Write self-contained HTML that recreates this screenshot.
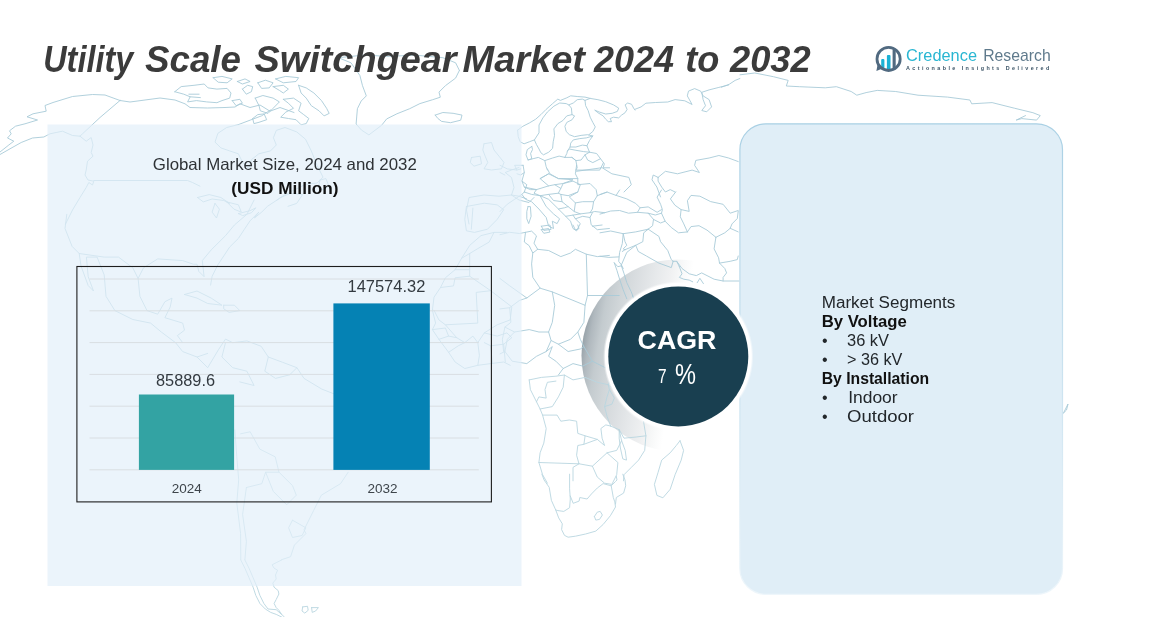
<!DOCTYPE html>
<html lang="en">
<head>
<meta charset="utf-8">
<title>Utility Scale Switchgear Market 2024 to 2032</title>
<style>
html,body{margin:0;padding:0;background:#fff;}
body{width:1176px;height:617px;overflow:hidden;position:relative;font-family:"Liberation Sans",sans-serif;}
svg{position:absolute;left:0;top:0;display:block;}
text{font-family:"Liberation Sans",sans-serif;}
</style>
</head>
<body>
<svg width="1176" height="617" viewBox="0 0 1176 617">
<defs>
<linearGradient id="cres" gradientUnits="userSpaceOnUse" x1="581" y1="356" x2="674.6" y2="372.5">
<stop offset="0" stop-color="#949fa6"/>
<stop offset="0.06" stop-color="#aab3b9"/>
<stop offset="0.16" stop-color="#bfc7cb"/>
<stop offset="0.3" stop-color="#cdd3d6"/>
<stop offset="0.45" stop-color="#d8dcdf"/>
<stop offset="0.62" stop-color="#e4e7e9"/>
<stop offset="0.78" stop-color="#eff0f1"/>
<stop offset="0.9" stop-color="#f8f9f9"/>
<stop offset="1" stop-color="#ffffff"/>
</linearGradient>
<radialGradient id="glow" gradientUnits="userSpaceOnUse" cx="678.3" cy="356.4" r="80">
<stop offset="0.912" stop-color="#fff" stop-opacity="1"/>
<stop offset="0.925" stop-color="#fff" stop-opacity="0.45"/>
<stop offset="0.94" stop-color="#fff" stop-opacity="0"/>
</radialGradient>
<linearGradient id="pb" x1="0" y1="0" x2="0" y2="1">
<stop offset="0" stop-color="#a9d0e4"/>
<stop offset="0.6" stop-color="#cfe5f1"/>
<stop offset="1" stop-color="#eef6fb"/>
</linearGradient>
</defs>

<!-- crescent -->
<circle cx="677.5" cy="355.5" r="96" fill="url(#cres)" opacity="0.93"/>
<!-- MAP -->
<g id="map" fill="none" stroke-linejoin="round" stroke-linecap="round">
<path id="m1" stroke="#a8cbd8" stroke-width="0.9" d="M0.0 154.5 L10.0 148.8 L21.2 142.5 L32.5 138.0 L43.8 137.0 L50.0 133.8 L56.2 132.5 L62.5 131.2 L72.5 135.5 L80.0 136.2 M0.0 152.0 L8.8 145.0 L13.8 141.2 L7.5 138.0 L11.2 133.8 L9.5 130.8 L15.5 126.2 L25.0 123.8 L37.5 120.0 L27.0 116.8 L33.0 113.8 L46.2 111.2 L45.0 105.5 L53.0 102.5 L72.5 96.5 L92.5 94.5 L105.0 95.0 L120.0 100.5 M120.0 100.5 L100.0 117.5 L82.5 133.8 L80.0 136.2 M120.0 100.5 L130.0 102.0 L145.0 100.0 L160.0 98.0 L175.0 100.0 L185.0 103.8 L190.0 107.5 L207.5 108.0 L225.0 107.5 L235.0 107.0 L240.0 103.8 L250.0 107.5 L260.0 105.0 L270.0 111.2 L280.0 107.5 L294.0 112.5 M80.0 136.2 L86.2 141.2 L91.2 137.5 L93.0 145.0 L91.2 152.5 L93.0 156.2 L87.5 161.2 L86.2 170.0 L85.0 175.0 L88.0 180.0 L93.8 181.2 L92.5 185.0 L88.8 182.5 L86.2 187.5 L80.0 197.5 L72.5 210.0 L67.5 220.0 L65.5 224.0 M93.8 180.5 L187.5 180.5 L192.5 182.5 L200.0 186.2 M484.0 143.8 L491.5 142.5 L494.0 150.0 L499.0 156.2 L504.0 162.5 L501.5 168.8 L491.5 170.0 L484.0 168.8 L487.8 162.5 L485.2 156.2 L482.8 150.0 L484.0 143.8 M471.5 157.5 L480.2 156.2 L481.5 163.8 L474.0 166.2 L470.2 162.5 L471.5 157.5 M519.0 167.5 L511.5 170.0 L505.2 172.5 L511.5 177.5 L514.0 187.5 L511.5 195.0 L499.0 196.2 L484.0 195.0 L469.0 197.5 L466.5 210.0 L469.0 224.0 M511.5 195.0 L519.0 200.0 L529.0 202.5 L534.0 197.5 M511.5 195.0 L519.0 196.2 L526.5 198.8 M635.0 109.3 L641.1 106.9 L645.9 103.2 L655.6 102.5 L667.8 102.0 L675.1 99.6 L684.8 100.8 L692.1 104.5 L687.3 95.9 L688.5 91.1 L694.6 88.6 L700.6 91.1 L703.1 95.9 L709.1 99.6 L711.6 106.9 L706.7 111.8 L701.8 110.5 L705.5 105.7 L703.1 99.6 L701.8 92.3 L709.1 89.9 L718.9 87.4 L728.6 85.0 M523.1 165.3 L524.3 172.5 L521.9 181.1 L524.3 187.1 L536.5 189.6 L548.6 185.9 L540.1 178.6 L548.6 173.8 M547.4 168.9 L549.9 173.8 L558.4 178.6 L577.8 178.6 L575.4 173.8 L576.6 165.3 M603.4 162.8 L599.7 170.1 L576.6 170.1 M576.6 171.3 L602.1 167.7 L611.9 173.8 L628.9 177.4 L631.3 184.7 L624.0 192.0 M607.0 192.0 L597.3 195.7 M577.8 178.6 L577.8 184.7 L590.0 183.5 L596.1 189.6 L597.3 195.7 M658.1 177.4 L653.2 175.0 L652.0 179.8 L656.9 187.1 L660.5 196.9 M675.1 192.0 L670.2 189.6 L665.4 192.0 L661.7 187.1 L658.1 181.1 L658.1 177.4 M658.1 177.4 L665.4 171.3 L677.5 173.8 L692.1 170.1 L699.4 172.5 L694.6 165.3 L695.8 160.4 L709.1 158.0 L718.9 155.5 L728.6 158.0 L738.3 161.6 M597.3 195.7 L593.6 201.7 L592.4 209.0 L590.0 212.7 L594.8 211.5 L604.6 212.7 M590.0 217.5 L592.4 212.7 M609.4 228.5 L597.3 229.7 L591.2 224.8 L590.0 217.5 L582.7 216.3 L575.4 218.8 L580.3 223.6 L576.6 230.9 L573.0 228.5 L570.5 221.2 L565.7 216.3 L558.4 209.0 L548.6 199.3 L540.1 195.7 M524.3 192.0 L531.6 194.4 L540.1 195.7 L546.2 206.6 L553.5 213.9 L559.6 218.8 L557.1 223.6 L552.3 221.2 L553.5 228.5 L548.6 226.1 L546.2 217.5 L538.9 209.0 L531.6 201.7 L525.5 199.3 L521.9 194.4 L524.3 192.0 M528.0 206.6 L530.4 206.6 L531.1 216.3 L528.7 223.6 L526.8 218.8 L526.8 211.5 L528.0 206.6 M541.3 229.7 L548.6 228.5 L549.9 232.1 L543.8 233.3 L541.3 229.7 M540.1 178.6 L548.6 173.8 L558.4 178.6 L573.0 179.8 L563.2 183.5 L554.7 184.7 L548.6 185.9 M536.5 189.6 L534.0 193.2 L540.1 195.7 L548.6 194.4 L558.4 193.2 L560.8 188.4 L554.7 184.7 M560.8 188.4 L563.2 183.5 L573.0 181.1 L580.3 184.7 L577.8 192.0 L568.1 195.7 L560.8 194.4 L558.4 193.2 M577.8 192.0 L569.3 196.9 L575.4 202.9 L582.7 201.7 L593.6 201.7 M575.4 202.9 L574.2 211.5 L580.3 213.9 L590.0 212.7 M560.8 194.4 L562.0 201.7 L568.1 206.6 L574.2 211.5 M548.6 194.4 L553.5 200.5 L562.0 201.7 M558.4 209.0 L564.4 207.8 L568.1 206.6 M565.7 216.3 L573.0 215.1 L580.3 213.9 M573.0 215.1 L575.4 218.8 M521.9 181.1 L526.8 184.7 L524.3 192.0 M524.3 187.1 L530.4 189.6 L536.5 189.6 M520.7 168.9 L517.0 170.1 M524.3 172.5 L520.7 175.0 L517.0 173.8 M500.0 165.3 L507.3 168.9 L517.0 170.1 L514.6 165.3 L523.1 165.3 M500.0 211.5 L507.3 204.2 L514.6 199.3 L521.9 194.4 M500.0 172.5 L504.9 175.0 M500.0 234.7 L509.7 232.3 L519.5 233.5 L525.5 232.3 L531.6 231.1 L536.5 235.9 L534.0 243.2 L537.7 249.3 L548.6 250.5 L560.8 256.6 L570.5 253.0 L575.4 249.3 L586.3 254.2 L597.3 256.6 L609.4 255.4 M525.5 232.3 L524.3 242.0 L529.2 245.7 L532.8 253.0 L537.7 249.3 M532.8 253.0 L531.6 263.9 L532.8 277.3 L540.1 288.2 L552.3 291.9 L585.1 305.3 L587.5 295.5 L586.3 254.2 M587.5 295.5 L619.2 295.5 M632.5 295.5 L636.2 305.3 L641.1 315.0 L645.9 322.3 M638.6 295.5 L645.9 307.7 L650.8 317.4 M585.1 305.3 L583.9 322.3 L577.8 332.0 L580.3 339.3 L583.9 346.6 L592.4 361.2 L602.1 366.1 L611.9 370.9 M552.3 291.9 L554.7 305.3 L552.3 322.3 L548.6 332.0 L551.1 340.5 L558.4 344.2 L570.5 339.3 L577.8 332.0 M540.1 288.2 L526.8 298.0 L519.5 300.4 L509.7 307.7 L510.9 322.3 L504.9 327.1 L514.6 332.0 L529.2 329.6 L538.9 332.0 L548.6 332.0 M526.8 298.0 L509.7 285.8 L500.0 278.5 M509.7 307.7 L500.0 308.9 M514.6 332.0 L507.3 339.3 L504.9 351.5 L512.2 361.2 L526.8 363.6 L536.5 356.3 L546.2 351.5 L551.1 340.5 M546.2 351.5 L552.3 346.6 L548.6 356.3 L555.9 361.2 L563.2 368.5 L558.4 375.0 M558.4 344.2 L568.1 351.5 L580.3 349.0 L583.9 346.6 M563.2 368.5 L573.0 363.6 L582.7 366.1 L592.4 361.2 M504.9 327.1 L502.4 339.3 L503.6 351.5 L504.9 351.5 M500.0 353.9 L504.9 351.5 M573.0 225.0 L575.4 229.9 L579.0 228.6 L577.8 225.0 M592.4 226.2 L602.1 225.0 M541.3 226.2 L549.9 225.0 L551.1 229.4 L543.8 230.4 L541.3 226.2 M721.4 87.2 L729.2 84.3 L735.1 80.4 L739.9 78.5 M740.0 74.8 L754.8 73.0 L773.4 76.7 L788.2 80.4 L786.3 86.0 L799.3 86.7 L825.3 87.8 L836.4 86.7 L851.2 91.5 L856.8 95.2 L866.1 92.6 L877.2 90.4 L895.7 91.5 L918.0 95.2 L947.6 97.1 L969.9 100.0 L971.7 103.8 L992.1 102.6 L1014.4 108.2 L1032.9 112.7 L1040.3 115.6 L1036.6 120.1 L1021.8 118.6 L1016.2 120.1 L1025.5 115.6 M66.8 214.3 L65.0 228.5 L72.1 246.4 L79.2 253.5 L81.0 266.0 L88.2 285.6 L93.5 291.0 L88.2 276.7 L86.4 257.1 L97.1 257.1 L104.2 274.9 L106.0 296.3 L114.9 310.6 L132.8 319.5 L150.6 323.1 L161.3 332.0 L175.6 342.7 L182.7 351.6 L197.0 357.0 L207.7 353.4 M254.1 200.0 L246.9 214.3 L234.4 225.0 L225.5 235.7 L211.2 249.9 L202.3 260.6 L204.1 276.7 L198.8 271.4 L197.0 264.2 L193.4 264.2 L182.7 260.6 L157.7 258.9 L143.5 267.8 L138.1 278.5 L139.9 296.3 L147.0 310.6 L157.7 314.2 L164.9 301.7 L172.0 298.1 L170.2 307.0 L164.9 317.7 L182.7 323.1 L184.5 330.2 L177.4 335.6 L182.7 342.7 M79.2 253.5 L104.2 257.1 L118.5 257.1 L132.8 267.8 L138.1 278.5 M184.5 294.5 L197.0 291.0 L211.2 298.1 L221.9 305.2 L207.7 303.5 L197.0 298.1 L184.5 294.5 M223.7 305.2 L234.4 305.2 L239.8 310.6 L229.1 312.4 L223.7 308.8 L223.7 305.2 M197.0 357.0 L207.7 367.7 L218.4 349.8 L225.5 339.1 L232.7 342.7 L246.9 340.9 L261.2 346.3 L268.3 357.0 L282.6 362.3 L296.9 367.7 L304.0 378.4 L321.8 389.1 L340.0 396.2 M225.5 342.7 L221.9 357.0 L232.7 367.7 L246.9 371.2 L254.1 385.5 L239.8 381.9 M268.3 357.0 L264.8 371.2 L275.5 378.4 L289.7 374.8 L296.9 367.7 M174.8 91.7 L181.2 86.6 L194.0 85.3 L204.2 84.0 L208.0 87.9 L216.9 89.1 L227.1 88.4 L231.0 93.0 L229.7 98.1 L222.0 100.6 L216.9 102.7 L206.7 101.9 L196.5 100.6 L187.6 101.9 L190.2 96.8 L183.8 94.2 L174.8 91.7 M188.9 94.2 L199.1 94.2 M190.2 96.8 L200.4 97.6 M213.1 77.7 L222.0 76.4 L232.2 78.9 L227.1 82.8 L218.2 82.2 L213.1 77.7 M242.4 89.1 L247.6 85.3 L252.7 86.6 L251.4 91.7 L246.3 94.2 L242.4 89.1 M257.8 82.8 L265.4 80.2 L273.1 82.8 L269.2 87.9 L261.6 88.4 L257.8 82.8 M275.6 78.9 L285.8 76.4 L298.6 77.7 L296.0 81.5 L283.3 82.8 L275.6 78.9 M273.1 86.6 L283.3 85.3 L288.4 89.1 L283.3 93.0 L279.4 90.4 L273.1 86.6 M237.3 81.5 L245.0 78.9 L250.1 81.5 L242.4 84.0 L237.3 81.5 M255.2 98.1 L262.9 95.5 L273.1 98.1 L279.4 101.9 L273.1 108.3 L268.0 113.4 L260.3 110.8 L259.0 105.7 L255.2 98.1 M283.3 99.3 L293.5 98.1 L301.1 103.2 L298.6 110.8 L303.7 114.6 L308.8 118.5 L306.2 123.6 L301.1 124.8 L296.0 119.7 L288.4 118.5 L280.7 117.2 L285.8 112.1 L293.5 108.3 L288.4 103.2 L283.3 99.3 M298.6 85.3 L306.2 87.9 L313.9 93.0 L321.5 100.6 L326.6 108.3 L329.2 113.4 L324.1 115.9 L319.0 110.8 L311.3 105.7 L306.2 98.1 L301.1 93.0 L298.6 85.3 M252.7 118.5 L257.8 114.6 L264.1 113.9 L266.7 119.7 L259.0 122.3 L253.9 123.6 L252.7 118.5 M232.2 100.6 L239.9 99.3 L242.4 103.2 L236.1 105.7 L232.2 100.6 M238.4 124.6 L226.7 127.5 L217.9 133.3 L215.0 142.1 L220.9 147.9 L229.6 150.9 L238.4 153.8 L242.7 162.5 L248.6 168.4 L251.5 159.6 L258.8 153.8 L270.5 150.9 L276.3 145.0 L273.4 137.7 L276.3 130.4 L285.0 127.5 L296.7 131.9 L305.5 139.2 L311.3 150.9 L317.1 165.4 L323.0 177.1 L317.1 183.0 L305.5 184.4 L296.7 188.8 L285.0 194.6 L276.3 200.5 L280.7 197.5 L290.9 193.2 L302.6 194.6 L296.7 203.4 L288.0 206.3 M276.3 200.5 L267.5 206.3 L261.7 212.1 L254.4 218.0 L258.8 212.1 L250.0 220.9 L244.2 229.6 L238.4 238.4 L229.6 247.1 L223.8 255.9 L217.9 264.7 L212.1 276.3 L210.6 285.1 M197.5 197.5 L209.2 194.6 L220.9 197.5 L229.6 203.4 L223.8 200.5 L212.1 199.0 L203.3 201.9 L197.5 197.5 M215.0 203.4 L212.1 212.1 L216.5 218.0 L219.4 209.2 L215.0 203.4 M226.7 201.9 L234.0 209.2 L241.3 212.1 L238.4 204.8 L226.7 201.9 M238.4 213.6 L250.0 210.7 L255.9 207.8 L251.5 212.7 L242.7 215.6 L238.4 213.6 M320.1 180.0 L325.9 178.6 L328.8 185.9 L323.0 190.2 L318.6 185.9 L320.1 180.0 M238.4 124.6 L250.0 120.2 L261.7 115.8 L270.5 110.0 M466.4 206.5 L484.3 203.2 L497.2 204.9 L503.7 209.7 L497.2 219.4 L487.5 229.2 L474.5 232.4 L466.4 230.8 L464.8 219.4 L466.4 206.5 M472.9 208.1 L471.3 229.2 M506.9 232.4 L494.0 232.4 L481.0 235.6 L469.7 245.4 L461.6 258.3 L455.1 269.7 L445.4 277.8 L440.5 287.5 L434.0 297.2 L432.4 310.2 L435.6 323.1 L432.4 329.6 L438.9 339.3 L448.6 352.3 L455.1 362.0 L464.8 368.5 L477.8 365.3 L490.7 363.6 L503.7 362.0 L510.2 365.3 M494.0 232.4 L489.1 242.1 L477.8 248.6 L469.7 253.5 L461.6 258.3 M455.1 269.7 L469.7 269.7 L469.7 253.5 M440.5 287.5 L453.5 285.9 L455.1 277.8 L469.7 276.2 L469.7 269.7 M469.7 276.2 L490.7 290.7 L476.2 292.4 L477.8 323.1 L445.4 324.8 L438.9 319.9 L434.0 310.2 M490.7 290.7 L511.8 306.9 L510.2 319.9 L497.2 324.8 L484.3 332.9 L477.8 342.6 L472.9 336.1 L464.8 342.6 L456.7 337.7 L445.4 324.8 M484.3 332.9 L497.2 336.1 L506.9 332.9 L511.8 337.7 L503.7 344.2 L490.7 345.8 L484.3 342.6 M477.8 342.6 L479.4 355.5 L477.8 365.3 M490.7 345.8 L492.4 363.6 M503.7 344.2 L505.3 362.0 M432.4 329.6 L445.4 328.0 L448.6 336.1 L438.9 339.3 M448.6 336.1 L456.7 337.7 M448.6 352.3 L458.3 345.8 L464.8 342.6 M1063.5 413.0 L1066.0 408.0 L1068.0 404.0 L1066.5 410.0 L1063.5 413.0 M459.4 70.4 L455.6 62.8 L442.9 57.7 L414.8 55.1 L389.3 56.4 L363.8 55.1 L338.3 57.7 L351.0 62.8 L359.9 75.5 L362.5 85.7 L366.3 95.9 L361.2 101.0 L357.4 108.7 L356.1 124.0 L361.5 130.1 L368.9 134.9 L381.6 125.3 L386.7 118.9 L396.9 113.8 L409.7 108.7 L419.9 103.6 L432.7 99.7 L440.3 97.2 L439.0 92.1 L445.4 85.7 L455.6 78.1 L459.4 70.4 M435.2 115.1 L442.9 112.5 L453.1 113.3 L462.0 115.1 L460.7 120.2 L450.5 122.7 L441.6 121.4 L437.8 118.4 L435.2 115.1 M600.0 194.5 L607.1 192.1 L616.1 195.4 L626.8 198.9 L635.7 203.4 L640.1 207.8 L637.5 212.3 L628.5 213.2 L619.6 210.5 L610.7 211.0 L600.0 214.1 M616.1 195.4 L619.6 190.0 M640.1 207.8 L648.2 206.9 L657.1 212.3 L661.5 209.6 M661.5 190.0 L657.1 197.1 L660.6 204.3 L662.4 209.6 L661.5 213.2 L665.1 221.2 L671.3 227.5 L678.5 232.8 L687.4 231.9 M637.5 212.3 L648.2 213.2 L653.5 219.4 L660.6 223.0 L665.1 221.2 M648.2 213.2 L655.3 215.0 L661.5 213.2 M653.5 219.4 L652.6 225.7 L648.2 229.2 M600.0 232.8 L610.7 231.0 L623.2 233.7 L635.7 231.9 L648.2 229.2 M623.2 233.7 L622.3 243.5 L619.6 252.4 L618.7 261.3 L621.4 264.9 L623.2 268.5 M623.2 233.7 L625.0 241.7 L626.8 245.3 L623.2 248.9 L625.0 249.7 M648.2 229.2 L643.7 232.8 L642.8 241.7 L635.7 245.3 L625.0 249.7 L622.3 251.5 M648.2 229.2 L658.9 236.4 L660.6 241.7 L667.8 250.6 L671.3 259.6 L673.1 261.3 M635.7 245.3 L638.3 251.5 L646.4 256.0 L658.9 263.1 L671.3 267.6 L673.1 261.3 M635.7 245.3 L626.8 252.4 L621.4 264.9 M673.1 261.3 L676.7 261.3 L679.4 266.7 M676.7 261.3 L682.0 268.5 L689.2 273.8 L696.3 275.6 L701.7 272.9 L707.0 275.6 L714.1 279.2 L723.1 281.0 L739.1 281.0 M679.4 266.7 L682.0 273.8 L679.4 277.4 L683.8 279.2 L689.2 280.1 L692.7 281.8 M697.2 282.7 L699.9 278.3 L703.4 283.6 M675.8 191.8 L670.4 198.9 L674.9 205.2 L681.1 209.6 L680.3 216.8 L683.8 223.9 L687.4 231.9 M681.1 209.6 L689.2 211.4 L687.4 200.7 L691.0 195.4 L699.9 196.2 L710.6 201.6 L723.1 204.3 L730.2 213.2 L738.2 210.5 M687.4 231.9 L691.0 226.6 L699.0 225.7 L707.0 230.1 L715.9 237.3 M715.9 237.3 L724.8 232.8 L730.2 228.3 L732.0 223.9 L737.3 218.5 L738.2 211.4 M715.9 237.3 L714.1 248.9 L718.6 257.8 L719.5 263.1 L724.8 268.5 L726.6 272.9 L723.1 277.4 L723.1 281.0 M719.5 263.1 L730.2 261.3 L737.3 259.6 L738.2 256.0 M730.2 228.3 L738.2 231.9 M600.0 256.3 L608.9 257.4 L618.7 256.9 M614.3 262.8 L616.9 270.3 L619.6 279.2 L623.2 289.9 L626.8 298.8 M621.4 265.8 L624.1 273.8 L626.8 282.7 L631.2 291.7 L633.9 298.8 M614.3 262.8 L617.8 266.7 L621.4 265.8 M517.6 130.2 L522.8 126.3 L529.3 123.0 L535.7 119.2 L540.9 114.6 L546.1 109.4 L552.6 103.6 L557.8 99.1 L560.4 100.4 L566.8 97.8 L570.7 95.8 L577.2 96.5 L585.0 97.1 L590.2 98.4 L597.9 99.7 L605.7 101.7 L613.5 104.9 L618.7 108.1 L617.4 111.4 L612.2 113.3 L605.7 114.0 L599.2 112.0 L594.7 110.1 L597.9 112.7 L603.1 115.9 L605.7 119.2 L608.3 121.7 L611.5 121.7 L610.2 118.5 L613.5 117.2 L618.7 117.9 L621.3 115.3 L625.1 112.7 L627.1 109.4 L625.1 104.9 L627.7 103.0 L631.6 104.3 L633.6 108.1 L635.0 110.1 M517.6 130.2 L518.2 136.7 L520.2 141.8 L524.1 143.8 L529.3 141.8 L534.4 139.9 L536.4 144.4 L539.0 149.0 L540.9 152.8 L543.5 154.8 L548.7 152.2 L552.6 148.3 L553.2 141.8 L554.5 135.4 L553.9 128.9 L557.8 123.7 L562.9 120.5 L566.8 115.9 L572.0 114.6 L574.6 115.9 L572.0 119.8 L566.8 122.4 L564.9 126.3 L566.2 131.5 L569.4 134.7 L574.6 136.7 L581.1 135.4 L587.6 134.7 L592.8 136.0 L586.3 137.9 L579.8 138.6 L573.3 139.9 L570.7 143.1 L570.1 147.0 L567.5 150.9 L566.8 153.5 L564.9 157.4 M534.4 139.9 L539.0 132.8 L539.0 125.0 L542.9 117.9 L547.4 112.0 L553.9 106.2 L559.7 103.0 L566.2 103.6 L568.8 104.9 L571.4 108.1 L572.0 114.6 M568.8 104.9 L573.3 103.0 L577.2 99.7 L582.4 99.1 L585.0 100.4 L590.2 98.4 M585.0 100.4 L585.6 105.6 L588.2 110.7 L590.2 117.2 L592.8 122.4 L595.3 126.9 L592.8 131.5 L588.9 134.7 M570.1 147.0 L575.9 147.0 L582.4 145.1 L586.9 145.7 M567.5 150.9 L569.4 149.0 L575.9 150.3 L583.7 151.6 L589.5 152.2 M564.9 157.4 L572.0 157.4 L575.9 160.6 L581.1 160.0 L585.0 154.8 L589.5 152.2 M592.8 136.0 L589.5 140.5 L586.9 145.7 L589.5 152.2 L596.6 153.5 L600.5 158.7 L604.4 163.9 L603.1 167.8 L609.6 167.8 M531.8 146.4 L527.3 149.6 L526.0 154.8 L528.0 160.0 L531.8 158.7 L530.6 153.5 L532.5 149.6 L531.8 146.4 M528.0 160.0 L533.1 158.7 L538.3 157.4 L544.8 160.6 L552.6 158.0 L559.1 156.1 L564.9 157.4 M544.8 160.6 L546.1 166.5 L547.4 170.0 M572.0 157.4 L575.9 160.6 L577.2 167.8 L575.9 170.0 M585.0 154.8 L587.6 160.0 L592.8 162.6 L600.5 158.7"/>
<path id="m2" stroke="#b9d6e0" stroke-width="0.9" d="M529.2 379.9 L530.4 389.6 L536.5 401.8 L540.1 409.0 L542.6 415.1 L546.2 428.5 L543.8 443.1 L540.1 452.8 L538.9 462.5 L542.6 474.7 L547.4 483.2 M529.2 379.9 L541.3 377.4 L555.9 376.2 L564.4 375.0 L563.2 387.2 L558.4 396.9 L552.3 406.6 L540.1 409.0 M536.5 401.8 L538.9 396.9 L546.2 398.1 L545.0 389.6 L547.4 382.3 L555.9 381.1 M542.6 415.1 L557.1 415.1 L560.8 421.2 L569.3 420.0 L576.6 421.2 L577.8 433.4 L585.1 435.8 L583.9 444.3 L577.8 445.5 L576.6 455.3 L579.0 463.8 L538.9 462.5 M585.1 435.8 L597.3 439.4 L604.6 445.5 L602.1 438.2 L600.9 428.5 L605.8 424.9 L610.7 426.1 M610.7 426.1 L607.0 416.3 L604.6 406.6 L607.0 396.9 L609.4 389.6 L608.2 384.7 L611.9 375.0 M610.7 426.1 L619.2 429.7 L624.0 438.2 L636.2 437.0 L645.9 435.8 M643.5 421.2 L645.9 435.8 L644.7 450.4 L638.6 460.1 L631.3 467.4 L624.0 474.7 L623.5 480.8 M619.2 429.7 L621.6 440.7 L625.2 450.4 L626.5 460.1 L622.8 458.9 L620.4 448.0 L619.2 438.2 L619.2 429.7 M583.9 444.3 L597.3 439.4 M579.0 463.8 L592.4 466.2 L607.0 452.8 L616.7 450.4 L621.6 440.7 M592.4 466.2 L597.3 477.1 L604.6 483.2 L611.9 484.4 L616.7 474.7 L617.9 462.5 L607.0 452.8 M579.0 463.8 L573.0 467.4 L573.0 480.8 M680.0 440.7 L683.6 450.4 L681.2 460.1 L675.1 474.7 L670.2 489.3 L662.9 497.8 L656.9 495.4 L654.4 484.4 L658.1 472.3 L661.7 460.1 L670.2 452.8 L676.3 445.5 L680.0 440.7 M564.4 375.0 L573.0 379.9 L585.1 377.4 L597.3 382.3 L608.2 384.7 M608.2 384.7 L614.3 389.6 L619.2 384.7 L626.5 389.6 M604.6 406.6 L611.9 404.2 L614.3 398.1 L609.4 389.6 M234.9 429.9 L236.8 456.8 L238.7 479.8 L236.8 502.9 L240.6 533.6 L240.8 559.7 M348.2 472.2 L340.5 483.7 L321.3 495.2 L313.6 510.6 L304.0 529.8 L305.9 533.6 L294.4 545.1 L290.6 556.7 L281.6 559.7 M246.4 487.5 L242.6 514.4 L246.4 541.3 L244.9 559.7 M240.6 433.8 L250.2 431.8 L259.8 449.1 L275.2 456.8 L279.0 472.2 L265.6 472.2 L261.8 483.7 L246.4 487.5 M279.0 472.2 L292.5 485.6 L296.3 495.2 L286.7 504.8 L273.3 491.4 L265.6 472.2 M292.5 520.2 L305.9 527.8 L302.1 535.5 L292.5 537.5 L288.6 527.8 L292.5 520.2 M541.9 474.2 L544.1 480.0 L549.2 487.3 L551.4 500.4 L555.7 509.9 L558.7 517.9 L562.3 523.8 L561.6 529.6 L564.5 535.4 L568.1 537.2 L575.4 536.2 L585.6 534.0 L595.8 531.1 L603.1 524.5 L610.4 515.7 L615.5 507.0 L614.8 501.9 L613.3 497.5 L611.2 485.8 M569.6 474.2 L569.6 480.0 L569.6 488.8 L570.3 499.0 L569.6 507.7 L563.8 511.4 L557.9 510.6 L555.7 509.9 M570.3 496.0 L573.2 503.3 L579.1 501.1 L579.8 497.5 L587.1 499.0 L591.5 493.9 L597.3 488.0 L603.1 483.6 L611.2 485.8 L615.5 481.5 L617.0 480.0 L616.3 476.4 M622.8 474.2 L625.0 480.0 L625.7 485.8 L623.6 493.1 L616.3 497.5 L615.5 504.1 M594.4 516.5 L597.3 512.1 L600.2 511.4 L602.4 515.0 L599.5 519.4 L595.8 520.1 L594.4 516.5 M240.8 560.0 L244.9 568.2 L249.0 577.7 L253.1 587.2 L255.8 595.4 L259.9 603.5 L265.3 609.0 L270.7 612.4 L276.2 614.4 L281.6 617.0 M244.9 560.0 L249.0 568.2 L253.1 577.7 L257.1 587.2 L259.9 595.4 L263.9 603.5 L268.0 609.0 L276.2 609.7 L281.6 614.4 M281.6 560.0 L276.2 562.7 L272.1 564.8 L274.1 568.2 L277.6 570.2 L275.5 575.0 L276.2 579.0 L272.8 583.1 L274.1 587.2 L278.2 590.6 L278.9 594.0 L276.2 599.5 L274.1 603.5 L276.2 607.6 L278.9 610.3 L281.6 614.4 L284.4 617.0 M302.7 606.9 L307.5 606.3 L308.2 610.3 L304.8 613.1 L302.0 611.0 L302.7 606.9 M311.6 607.6 L318.4 607.6 L315.6 611.0 L312.2 612.4 L311.6 607.6"/>
</g>
<!-- left panel -->
<rect x="47.5" y="124.5" width="474" height="461.5" fill="#e2eff9" fill-opacity="0.7"/>
<!-- right panel -->
<rect x="739.9" y="123.8" width="322.6" height="470.6" rx="26" ry="26" fill="#e0eef7" stroke="url(#pb)" stroke-width="1.2"/>


<!-- chart -->
<g stroke="#d9dee2" stroke-width="1">
<line x1="89.5" y1="279" x2="478.8" y2="279"/>
<line x1="89.5" y1="310.8" x2="478.8" y2="310.8"/>
<line x1="89.5" y1="342.6" x2="478.8" y2="342.6"/>
<line x1="89.5" y1="374.4" x2="478.8" y2="374.4"/>
<line x1="89.5" y1="406.2" x2="478.8" y2="406.2"/>
<line x1="89.5" y1="438" x2="478.8" y2="438"/>
<line x1="89.5" y1="469.8" x2="478.8" y2="469.8"/>
</g>
<rect x="76.9" y="266.5" width="414.5" height="235.4" fill="none" stroke="#1d1d1d" stroke-width="1.1"/>
<rect x="138.9" y="394.5" width="95.2" height="75.4" fill="#33a3a3"/>
<rect x="333.4" y="303.4" width="96.4" height="166.5" fill="#0582b4"/>

<!-- crescent + circle -->
<circle cx="678.3" cy="356.4" r="80" fill="url(#glow)"/>
<circle cx="678.3" cy="356.4" r="70" fill="#193f50"/>

<!-- texts -->
<g font-weight="700" font-style="italic" font-size="37" fill="#3b3b3b">
<text x="43.2" y="72.4" textLength="90" lengthAdjust="spacingAndGlyphs">Utility</text>
<text x="145" y="72.4" textLength="96" lengthAdjust="spacingAndGlyphs">Scale</text>
<text x="254.5" y="72.4" textLength="202" lengthAdjust="spacingAndGlyphs">Switchgear</text>
<text x="462.6" y="72.4" textLength="122.4" lengthAdjust="spacingAndGlyphs">Market</text>
<text x="594" y="72.4" textLength="80" lengthAdjust="spacingAndGlyphs">2024</text>
<text x="685.2" y="72.4" textLength="34.2" lengthAdjust="spacingAndGlyphs">to</text>
<text x="730" y="72.4" textLength="80.7" lengthAdjust="spacingAndGlyphs">2032</text>
</g>

<text x="152.8" y="169.7" font-size="16.5" fill="#2e3236" textLength="264" lengthAdjust="spacingAndGlyphs">Global Market Size, 2024 and 2032</text>
<text x="231.3" y="194.2" font-size="16.5" font-weight="700" fill="#111" textLength="107.2" lengthAdjust="spacingAndGlyphs">(USD Million)</text>

<g font-size="16" fill="#333a40" text-anchor="middle">
<text x="185.5" y="386" textLength="59" lengthAdjust="spacingAndGlyphs">85889.6</text>
<text x="386.4" y="292" textLength="77.8" lengthAdjust="spacingAndGlyphs">147574.32</text>
</g>
<g font-size="13.5" fill="#3e454b" text-anchor="middle">
<text x="186.7" y="493">2024</text>
<text x="382.4" y="493">2032</text>
</g>

<g fill="#fff" text-anchor="middle">
<text x="677" y="349.4" font-size="26.5" font-weight="700" textLength="78.8" lengthAdjust="spacingAndGlyphs">CAGR</text>
<text x="662.3" y="383.2" font-size="21" textLength="8.6" lengthAdjust="spacingAndGlyphs">7</text>
<text x="685.5" y="383.6" font-size="30" textLength="21" lengthAdjust="spacingAndGlyphs">%</text>
</g>

<g font-size="16" fill="#22272b">
<text x="821.7" y="308.1" textLength="133.7" lengthAdjust="spacingAndGlyphs">Market Segments</text>
<text x="821.7" y="326.8" font-weight="700" fill="#111" textLength="85.1" lengthAdjust="spacingAndGlyphs">By Voltage</text>
<text x="822" y="345.8">•</text><text x="847" y="345.8" textLength="42" lengthAdjust="spacingAndGlyphs">36 kV</text>
<text x="822" y="364.5">•</text><text x="847" y="364.5" textLength="55.4" lengthAdjust="spacingAndGlyphs">&gt; 36 kV</text>
<text x="821.7" y="383.5" font-weight="700" fill="#111" textLength="107.5" lengthAdjust="spacingAndGlyphs">By Installation</text>
<text x="822" y="403">•</text><text x="848.2" y="403" textLength="49.4" lengthAdjust="spacingAndGlyphs">Indoor</text>
<text x="822" y="422.4">•</text><text x="847" y="422.4" textLength="67" lengthAdjust="spacingAndGlyphs">Outdoor</text>
</g>

<!-- logo -->
<g id="logo">
<clipPath id="lg"><circle cx="888.6" cy="58.9" r="11.6"/></clipPath>
<g clip-path="url(#lg)">
<rect x="881.2" y="59.1" width="3.2" height="14" rx="1" fill="#1bb2d5"/>
<rect x="886.9" y="55.1" width="3.6" height="18" rx="1" fill="#1bb2d5"/>
<rect x="892.6" y="48" width="3.1" height="25" fill="#516a80"/>
</g>
<circle cx="888.6" cy="58.9" r="11.6" fill="none" stroke="#516a80" stroke-width="2.8"/>
<path d="M877.6 64.5 L876.4 71 L882.5 68.6 Z" fill="#516a80"/>
<text x="906" y="60.8" font-size="16.6" fill="#29b6d2" textLength="71" lengthAdjust="spacingAndGlyphs">Credence</text>
<text x="983.2" y="60.8" font-size="16.6" fill="#5f7a8c" textLength="67.5" lengthAdjust="spacingAndGlyphs">Research</text>
<text x="906" y="69.6" font-size="5.4" font-weight="700" fill="#3d5567" textLength="143.3" lengthAdjust="spacing">Actionable Insights Delivered</text>
</g>
</svg>
</body>
</html>
